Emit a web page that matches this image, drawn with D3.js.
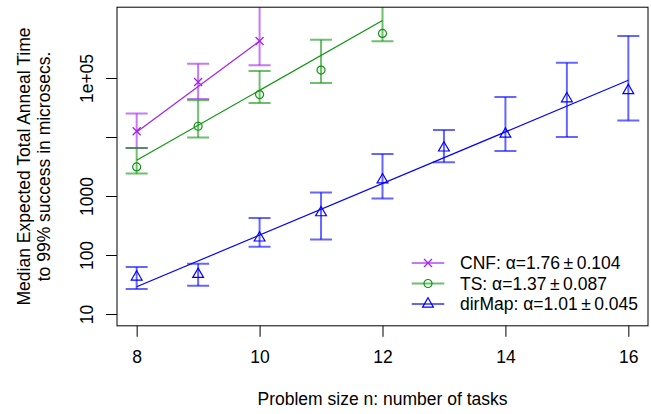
<!DOCTYPE html>
<html>
<head>
  <meta charset="utf-8">
  <style>
    body { margin: 0; background: #fff; }
    text { font-family: "Liberation Sans", Arial, sans-serif; font-size: 17.5px; fill: #000; }
  </style>
</head>
<body>
<script src="https://d3js.org/d3.v7.min.js"></script>
<script>

// problem sizes and median anneal times (microsecs), with error bar ends
var cnfN   = [8, 9, 10];
var cnfMed = [12500, 85500, 423000];
var cnfLo  = [6530, 44000, 164000];
var cnfHi  = [24900, 175000, 3000000];

var tsN   = [8, 9, 10, 11, 12];
var tsMed = [3110, 15200, 52400, 136000, 570000];
var tsLo  = [2400, 9800, 37800, 82200, 418000];
var tsHi  = [6500, 41900, 131000, 447000, 2000000];

var dirN   = [8, 9, 10, 11, 12, 13, 14, 15, 16];
var dirMed = [42.5, 47, 195, 522, 1884, 6530, 11200, 44600, 61400];
var dirLo  = [26.5, 30.1, 138, 184, 908, 3740, 5810, 10000, 19000];
var dirHi  = [62.5, 71, 422, 1148, 5160, 13200, 47600, 182000, 514000];

// fitted exponential lines, end points
var cnfFit = [[8, 12200], [10, 423000]];
var tsFit  = [[8, 4050], [12, 946000]];
var dirFit = [[8, 29], [16, 91400]];

var xTicks = [8, 10, 12, 14, 16];
var yTicks = [10, 100, 1000, 10000, 100000];
var yTickLabels = ["10", "100", "1000", "", "1e+05"];

var legendNames  = ["CNF: ", "TS: ", "dirMap: "];
var legendAlpha  = ["1.76", "1.37", "1.01"];
var legendErr    = ["0.104", "0.087", "0.045"];

function drawChart() {
  var width = 651, height = 414;
  var pLeft = 117, pRight = 648, pTop = 7.2, pBottom = 325.8;
  var fontSize = "17.5px";

  var svg = d3.select("body").append("svg")
              .attr("width", width)
              .attr("height", height);

  // R style 4% padding on both axes
  var x = d3.scaleLinear().domain([7.68, 16.32]).range([pLeft, pRight]);
  var y = d3.scaleLog().domain([Math.pow(10, 0.8), Math.pow(10, 6.2)]).range([pBottom, pTop]);

  svg.append("clipPath").attr("id", "plotclip")
     .append("rect")
     .attr("x", pLeft).attr("y", pTop)
     .attr("width", pRight - pLeft).attr("height", pBottom - pTop);

  var series = [
    {n: cnfN, med: cnfMed, lo: cnfLo, hi: cnfHi, fit: cnfFit, col: "#a020f0", shape: "cross"},
    {n: tsN,  med: tsMed,  lo: tsLo,  hi: tsHi,  fit: tsFit,  col: "#0f950f", shape: "circle"},
    {n: dirN, med: dirMed, lo: dirLo, hi: dirHi, fit: dirFit, col: "#0000ff", shape: "triangle"}
  ];

  function symbol(g, shape, col) {
    if (shape == "cross") {
      g.append("path").attr("d", "M-4,-4L4,4M-4,4L4,-4")
       .attr("stroke", col).attr("stroke-width", 1.2).attr("fill", "none");
    } else if (shape == "circle") {
      g.append("circle").attr("r", 4)
       .attr("stroke", col).attr("stroke-width", 1.2).attr("fill", "none");
    } else {
      g.append("path").attr("d", "M0,-6.2L5.4,3.1L-5.4,3.1Z")
       .attr("stroke", col).attr("stroke-width", 1.2).attr("fill", "none");
    }
  }

  var plot = svg.append("g").attr("clip-path", "url(#plotclip)");
  var line = d3.line()
               .x(function(d) { return x(d[0]); })
               .y(function(d) { return y(d[1]); });

  series.forEach(function(s) {
    var bars = plot.append("g")
                   .attr("stroke", s.col)
                   .attr("stroke-opacity", 0.6)
                   .attr("stroke-width", 2);
    s.n.forEach(function(n, i) {
      var cx = x(n);
      bars.append("line").attr("x1", cx).attr("x2", cx)
          .attr("y1", y(s.lo[i])).attr("y2", y(s.hi[i]));
      bars.append("line").attr("x1", cx - 11).attr("x2", cx + 11)
          .attr("y1", y(s.lo[i])).attr("y2", y(s.lo[i]));
      bars.append("line").attr("x1", cx - 11).attr("x2", cx + 11)
          .attr("y1", y(s.hi[i])).attr("y2", y(s.hi[i]));
    });

    plot.append("path")
        .attr("d", line(s.fit))
        .attr("stroke", s.col)
        .attr("stroke-width", 1.2)
        .attr("fill", "none");

    s.n.forEach(function(n, i) {
      var g = plot.append("g").attr("transform", "translate(" + x(n) + "," + y(s.med[i]) + ")");
      symbol(g, s.shape, s.col);
    });
  });

  // box
  svg.append("rect")
     .attr("x", pLeft).attr("y", pTop)
     .attr("width", pRight - pLeft).attr("height", pBottom - pTop)
     .attr("fill", "none").attr("stroke", "#000").attr("stroke-width", 1);

  // axes
  var xAxis = svg.append("g")
                 .attr("transform", "translate(0," + pBottom + ")")
                 .call(d3.axisBottom(x).tickValues(xTicks).tickSize(11).tickPadding(0).tickFormat(d3.format("d")));
  xAxis.select(".domain").remove();
  xAxis.selectAll("line").attr("stroke", "#000");
  xAxis.selectAll("text").attr("y", 37.5).attr("dy", 0).attr("fill", "#000")
       .style("font-size", fontSize).style("font-family", "Liberation Sans, Arial, sans-serif");

  var yAxis = svg.append("g")
                 .attr("transform", "translate(" + pLeft + ",0)")
                 .call(d3.axisLeft(y).tickValues(yTicks).tickSize(11)
                         .tickFormat(function(d, i) { return yTickLabels[i]; }));
  yAxis.select(".domain").remove();
  yAxis.selectAll("line").attr("stroke", "#000");
  yAxis.selectAll("text")
       .attr("transform", "rotate(-90)")
       .attr("x", 0).attr("y", -24).attr("dy", 0).attr("fill", "#000")
       .attr("text-anchor", "middle")
       .style("font-size", fontSize).style("font-family", "Liberation Sans, Arial, sans-serif");

  // axis titles
  svg.append("text")
     .attr("x", (pLeft + pRight) / 2).attr("y", 405)
     .attr("text-anchor", "middle")
     .text("Problem size n: number of tasks");

  var midY = (pTop + pBottom) / 2;
  svg.append("text")
     .attr("transform", "translate(29.5," + midY + ") rotate(-90)")
     .attr("text-anchor", "middle")
     .text("Median Expected Total Anneal Time");
  svg.append("text")
     .attr("transform", "translate(50," + midY + ") rotate(-90)")
     .attr("text-anchor", "middle")
     .text("to 99% success in microsecs.");

  // legend
  var legendY = [263, 283.5, 304];
  series.forEach(function(s, i) {
    var ly = legendY[i];
    svg.append("line")
       .attr("x1", 411.7).attr("x2", 444.3)
       .attr("y1", ly).attr("y2", ly)
       .attr("stroke", s.col).attr("stroke-opacity", 0.6).attr("stroke-width", 2);
    var g = svg.append("g").attr("transform", "translate(428," + ly + ")");
    symbol(g, s.shape, s.col);
    var t = svg.append("text").attr("x", 460).attr("y", ly + 6.2);
    t.append("tspan").text(legendNames[i] + "\u03b1=" + legendAlpha[i]);
    t.append("tspan").text("\u2009\u00b1\u2009" + legendErr[i]);
  });
}

drawChart();

</script>
</body>
</html>
